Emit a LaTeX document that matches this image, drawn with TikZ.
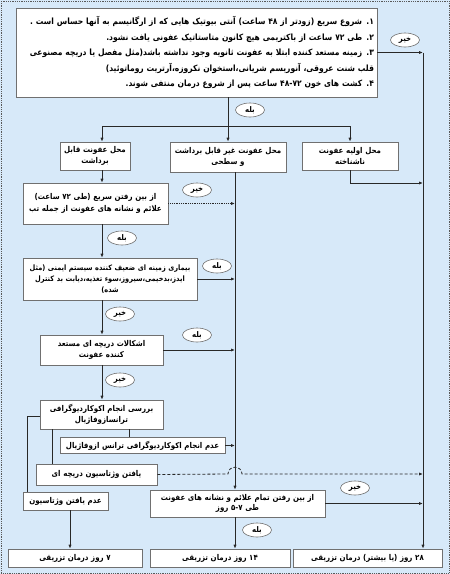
\documentclass[tikz,border=0pt]{standalone}
\usepackage{fontspec}
\newfontfamily\fafont[Script=Arabic, FakeStretch=0.88]{DejaVu Sans}
\TeXXeTstate=1
\usepackage{tikz}
\usetikzlibrary{arrows.meta, positioning, shapes.geometric}
\usepackage{xcolor}
\definecolor{paneblue}{RGB}{215,233,249}
\definecolor{boxline}{RGB}{112,112,112}
\definecolor{linkdark}{RGB}{40,40,40}
\newcommand{\rl}[1]{\mbox{\beginR #1\endR}}
\tikzset{
  flowbox/.style={draw=boxline, fill=white, line width=0.6pt, align=center, inner sep=3pt,
    font=\fafont\bfseries\fontsize{8}{11.5}\selectfont},
  answer/.style={ellipse, draw=boxline, fill=white, line width=0.6pt, minimum width=29pt,
    minimum height=14pt, inner sep=0pt, font=\fafont\bfseries\fontsize{7.8}{8}\selectfont},
  link/.style={draw=linkdark, line width=0.8pt, -{Latex[length=4pt,width=3.2pt]}},
  plainlink/.style={draw=linkdark, line width=0.8pt}
}

\begin{document}
\begin{tikzpicture}[x=1pt, y=-1pt]
  \useasboundingbox (0,0) rectangle (450,574);
  \fill[paneblue] (0,0) rectangle (450,574);
  \draw[densely dotted, gray!70!black, line width=0.8pt] (1,1) rectangle (449,573);

  % columns of the flow
  \coordinate (colL) at (102,0);
  \coordinate (colM) at (235,0);
  \coordinate (colR) at (423,0);
  \coordinate (split) at (228,126);
  \coordinate (unkturn) at (350,183);
  \coordinate (hop) at (235,474);
  \coordinate (vegdrop) at (52,0);
  \coordinate (noteedrop) at (129,0);
  \coordinate (nvturn) at (27,416);
  \coordinate (nvdrop) at (70,0);

  % criteria
  \node[flowbox, text width=355pt, minimum height=89pt, align=right,
        font=\fafont\bfseries\fontsize{8.6}{15.5}\selectfont] (crit) at (196.5,52.5)
    {\rl{۱. شروع سریع  (زودتر از ۴۸ ساعت) آنتی بیوتیک هایی که از ارگانیسم به آنها حساس است .}\\
     \rl{۲. طی ۷۲ ساعت از باکتریمی هیچ کانون متاستاتیک عفونی یافت نشود.}\\
     \rl{۳. زمینه مستعد کننده ابتلا به عفونت ثانویه وجود نداشته باشد(مثل مفصل یا دریچه مصنوعی}\\
     \rl{قلب شنت عروقی، آنوریسم شریانی،استخوان نکروزه،آرتریت روماتوئید)\hspace*{14pt}}\\
     \rl{۴. کشت های خون ۴۸-۷۲ ساعت پس از شروع درمان منتفی شوند.}};

  % site of infection
  \node[flowbox, text width=64pt, minimum height=28pt] (rem) at (95,156) {\rl{محل عفونت قابل}\\\rl{برداشت}};
  \node[flowbox, text width=110pt, minimum height=30pt] (mid) at (228,157) {\rl{محل عفونت غیر قابل برداشت}\\\rl{و سطحی}};
  \node[flowbox, text width=90pt, minimum height=28pt] (unk) at (350,156) {\rl{محل اولیه عفونت}\\\rl{ناشناخته}};

  % left branch
  \node[flowbox, text width=139pt, minimum height=41pt] (rapid) at (95.5,203.5)
    {\rl{از بین رفتن سریع (طی ۷۲ ساعت)}\\\rl{علائم و نشانه های عفونت از جمله تب}};
  \node[flowbox, text width=168pt, minimum height=42pt,
        font=\fafont\bfseries\fontsize{7.5}{11}\selectfont] (immune) at (110,279)
    {\rl{بیماری زمینه ای ضعیف کننده سیستم ایمنی (مثل}\\\rl{ایدز،بدخیمی،سیروز،سوء تغذیه،دیابت بد کنترل}\\\rl{شده)}};
  \node[flowbox, text width=117pt, minimum height=30pt] (valve) at (101.5,350)
    {\rl{اشکالات دریچه ای مستعد}\\\rl{کننده عفونت}};
  \node[flowbox, text width=117pt, minimum height=29pt] (tee) at (101.5,414.5)
    {\rl{بررسی انجام اکوکاردیوگرافی}\\\rl{ترانسازوفاژیال}};
  \node[flowbox, text width=159pt, minimum height=16pt, inner ysep=1pt] (notee) at (142.5,445.5)
    {\rl{عدم انجام اکوکاردیوگرافی ترانس ازوفاژیال}};
  \node[flowbox, text width=115pt, minimum height=21pt] (veg) at (96.5,474.5)
    {\rl{یافتن وژتاسیون دریچه ای}};
  \node[flowbox, text width=79pt, minimum height=18pt, inner ysep=1pt] (noveg) at (65.5,501)
    {\rl{عدم یافتن وژتاسیون}};
  \node[flowbox, text width=169pt, minimum height=27pt,
        font=\fafont\bfseries\fontsize{8}{10.5}\selectfont] (resolve) at (237.5,503.5)
    {\rl{از بین رفتن تمام علائم و نشانه های عفونت}\\\rl{طی ۵-۷ روز}};

  % outcomes
  \node[flowbox, text width=128pt, minimum height=18pt, inner ysep=1pt] (d7) at (75,558) {\rl{۷ روز درمان تزریقی}};
  \node[flowbox, text width=134pt, minimum height=18pt, inner ysep=1pt] (d14) at (220,558) {\rl{۱۴ روز درمان تزریقی}};
  \node[flowbox, text width=143pt, minimum height=18pt, inner ysep=1pt] (d28) at (367.5,558) {\rl{۲۸ روز (یا بیشتر) درمان تزریقی}};

  % answers
  \node[answer] (noA) at (405,40) {\rl{خیر}};
  \node[answer] (yesA) at (250,110) {\rl{بله}};
  \node[answer] (noB) at (197,190) {\rl{خیر}};
  \node[answer] (yesB) at (122,238) {\rl{بله}};
  \node[answer] (yesC) at (217,266) {\rl{بله}};
  \node[answer] (noC) at (120,314) {\rl{خیر}};
  \node[answer] (yesD) at (197,335) {\rl{بله}};
  \node[answer] (noD) at (120,380) {\rl{خیر}};
  \node[answer] (noE) at (355,488) {\rl{خیر}};
  \node[answer] (yesE) at (257,530) {\rl{بله}};

  % connectors
  \draw[link] (crit.east) -- (crit.east -| colR);
  \draw[link] (crit.east -| colR) -- (d28.north -| colR);
  \draw[plainlink] (crit.south -| split) -- (split);
  \draw[plainlink] (split -| colL) -- (split -| unk);
  \draw[link] (split -| colL) -- (rem.north -| colL);
  \draw[link] (split) -- (mid.north);
  \draw[link] (split -| unk) -- (unk.north);
  \draw[link] (unk.south) -- (unkturn) -- (unkturn -| colR);

  \draw[link] (rem.south -| colL) -- (rapid.north -| colL);
  \draw[link, densely dotted] (rapid.east) -- (rapid.east -| colM);
  \draw[link] (rapid.south -| colL) -- (immune.north -| colL);
  \draw[link] (immune.east) -- (immune.east -| colM);
  \draw[link] (immune.south -| colL) -- (valve.north -| colL);
  \draw[link] (valve.east) -- (valve.east -| colM);
  \draw[link] (valve.south -| colL) -- (tee.north -| colL);
  \draw[plainlink] (tee.south -| noteedrop) -- (notee.north -| noteedrop);
  \draw[link] (notee.east) -- (notee.east -| colM);
  \draw[plainlink] (tee.south -| vegdrop) -- (veg.north -| vegdrop);
  \draw[plainlink] (tee.west |- nvturn) -- (nvturn) -- (noveg.north -| nvturn);
  \draw[link] (noveg.south -| nvdrop) -- (d7.north -| nvdrop);

  \draw[link] (mid.south -| colM) -- (resolve.north -| colM);
  \draw[link, densely dashed] (veg.east) -- ([xshift=-7pt]hop)
    .. controls +(0,-9) and +(0,-9) .. ([xshift=7pt]hop) -- (hop -| colR);
  \draw[link] (resolve.east) -- (resolve.east -| colR);
  \draw[link] (resolve.south -| colM) -- (d14.north -| colM);
\end{tikzpicture}
\end{document}
